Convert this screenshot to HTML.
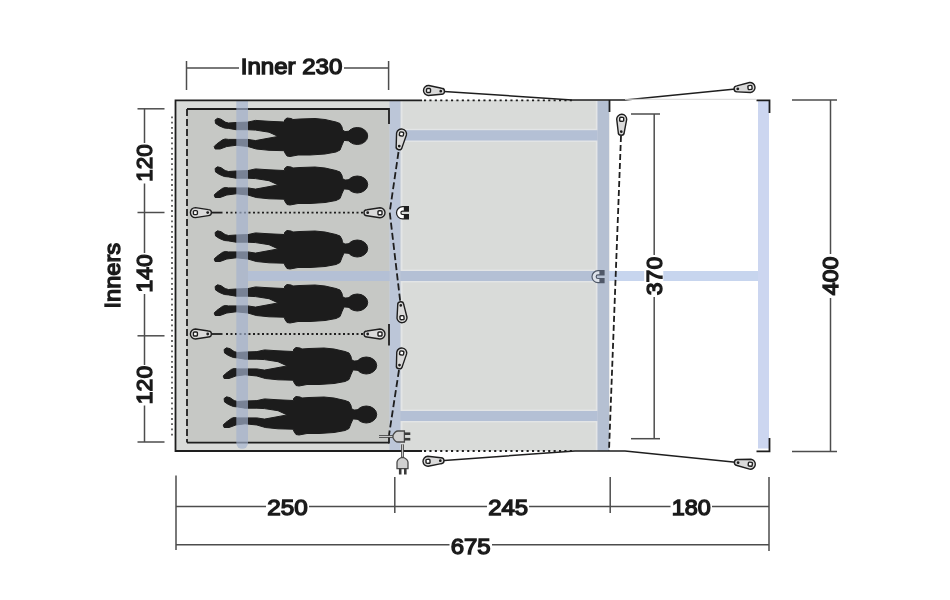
<!DOCTYPE html>
<html><head><meta charset="utf-8"><style>
html,body{margin:0;padding:0;background:#fff;width:950px;height:600px;overflow:hidden}
svg{display:block;will-change:transform}
text{font-family:"Liberation Sans",sans-serif;font-weight:normal;fill:#1a1a1a}
</style></head><body>
<svg width="950" height="600" viewBox="0 0 950 600">
<defs>
<g id="person">
<path d="M1.1,3 L3.6,1.3 L7,2.2 L11.2,5.1 L14.5,6 L22.1,5.5 L33.9,5.1 L41.5,3.4 L55,4.3 L70.5,5 L70.5,3 L73,1 L77,1.5 L79,2.5 L86,2 L101,1.5 L111,2.5 L122,5 L126,6.5 L128,10 L128.5,13 L131,14.6 L137,14 L137,24 L130,23.4 L128,28 L126,33 L122,35 L111,37 L96,38 L84,38 L76,39.5 L73,39 L71,36 L70.1,33.7 L55,33.3 L42.3,32 L33.9,29.5 L22.1,28.3 L12.8,29.5 L6.1,32 L1.1,32 L0.2,29.5 L2.7,27 L8.6,22.8 L11.2,22 L14.5,22.4 L33.9,22.4 L41.5,23.6 L64.2,19.4 L55,15.2 L41.5,13.1 L33.9,12.7 L22.1,12.7 L14.5,11.4 L10.3,11 L5.3,8.9 L1.5,6.4 Z"/>
<ellipse cx="143.3" cy="19" rx="10.4" ry="8.5"/>
</g>
<g id="peg">
<path d="M0,-5 L13,-3 A3 3 0 0 1 13,3 L0,5 A5 5 0 0 1 0,-5 Z" fill="#dadada" stroke="#1e1e1e" stroke-width="1.4"/>
<rect x="-2" y="-2" width="4" height="4" rx="1" fill="#fff" stroke="#1e1e1e" stroke-width="1.4"/>
<circle cx="12.3" cy="0" r="1.4" fill="#1e1e1e"/>
</g>
</defs>
<rect x="175.5" y="100" width="434" height="351" fill="#d9dbd9"/>
<rect x="187" y="109" width="202.5" height="333.5" fill="#c6c8c5"/>
<g fill="#e3e5e6"><rect x="401" y="128.8" width="196" height="13.1"/><rect x="401" y="269.6" width="196" height="12.8"/><rect x="401" y="409.6" width="196" height="12.8"/><rect x="400.5" y="101" width="2" height="349"/><rect x="595.8" y="101" width="2" height="350"/></g>
<g fill="#b4c0d5"><rect x="400" y="130.2" width="197.5" height="10.3"/><rect x="248" y="271" width="349.5" height="10"/><rect x="400" y="411" width="197.5" height="10"/></g>
<rect x="609" y="271" width="35.2" height="10" fill="#c7d5ee"/><rect x="663.3" y="271" width="94.7" height="10" fill="#c7d5ee"/>
<g fill="#1c1c1c" stroke="#1c1c1c" stroke-width="1" stroke-linejoin="round">
<use href="#person" transform="translate(214,117)"/>
<use href="#person" transform="translate(214,165.5)"/>
<use href="#person" transform="translate(214,229.5)"/>
<use href="#person" transform="translate(214,283.5)"/>
<use href="#person" transform="translate(223,346.5)"/>
<use href="#person" transform="translate(223,395.5)"/>
</g>
<g stroke="#1e1e1e" stroke-width="1.8">
<line x1="211" y1="212.6" x2="222.5" y2="212.6"/>
<line x1="226" y1="212.6" x2="363" y2="212.6" stroke-dasharray="2 2.5"/>
<line x1="211" y1="334" x2="222.5" y2="334"/>
<line x1="226" y1="334" x2="363" y2="334" stroke-dasharray="2 2.5"/>
</g>
<use href="#peg" transform="translate(195.4,212.6)"/>
<use href="#peg" transform="translate(380,212.7) rotate(180)"/>
<use href="#peg" transform="translate(195.4,334)"/>
<use href="#peg" transform="translate(380,334) rotate(180)"/>
<g stroke="#1e1e1e" stroke-width="1.8" fill="none">
<path d="M187,109 H389"/>
<path d="M187,442.6 H389"/>
<line x1="187" y1="109" x2="187" y2="442.6" stroke-dasharray="7 3"/>
</g>
<g fill="#a3b3cf" fill-opacity="0.68">
<path d="M236.3,101 H248 V443 A5.85 5.85 0 0 1 236.3,443 Z"/>
<rect x="597.5" y="101" width="11.5" height="350"/>
</g>
<rect x="389.5" y="101" width="11" height="349" fill="#bcc6d8"/>
<rect x="758" y="101" width="11" height="347.5" fill="#ccd6f0"/>
<path d="M604.6,272.8 H598 A3.9 3.9 0 0 0 598,280.6 H604.6" fill="none" stroke="#4f5868" stroke-width="5.4"/>
<path d="M599.4,272.8 H598 A3.9 3.9 0 0 0 598,280.6 H599.4" fill="none" stroke="#dde2ea" stroke-width="3"/>
<g stroke="#1e1e1e" stroke-width="1.8" fill="none">
<path d="M388,109 H389 V124"/>
<path d="M388,442.6 H389 V435"/>
<line x1="389" y1="324" x2="389" y2="345.5"/>
</g>
<g stroke="#1e1e1e" stroke-width="1.8" fill="none">
<path d="M422,100.3 H175.5 V451 H422"/>
<line x1="424" y1="100.3" x2="572" y2="100.3" stroke-dasharray="2.1 3.3"/>
<line x1="424" y1="451" x2="574" y2="451" stroke-dasharray="2.1 3.3"/>
<path d="M440,91.2 L572,100 H625 L738,88.8" stroke-width="1.5"/>
<path d="M440.7,460.7 L575,451 H625 L738,462.6" stroke-width="1.5"/>
<line x1="609.5" y1="100" x2="609.5" y2="112"/>
<path d="M756.5,100.3 H769.5 V113"/>
<path d="M756.5,451.3 H769.5 V438"/>
</g>
<line x1="625" y1="99.3" x2="756" y2="99.3" stroke="#d8d8d8" stroke-width="1"/>
<line x1="172" y1="116.5" x2="172" y2="437" stroke="#5a5a5a" stroke-width="1.8" stroke-dasharray="1.8 3.4"/>
<g stroke="#1e1e1e" stroke-width="1.8" fill="none">
<path d="M398.5,152 L389.7,212 L400.3,302" stroke-dasharray="7 3.2"/>
<path d="M399,370 L389,435" stroke-dasharray="7 3.2"/>
<path d="M621,136 L609,451" stroke-dasharray="6 3"/>
</g>
<path d="M409,208.9 H402.6 A3.9 3.9 0 0 0 402.6,216.7 H409" fill="none" stroke="#1e1e1e" stroke-width="5.6"/>
<path d="M403.8,208.9 H402.6 A3.9 3.9 0 0 0 402.6,216.7 H403.8" fill="none" stroke="#fff" stroke-width="3.2"/>
<use href="#peg" transform="translate(428.5,90.5) rotate(3.3)"/>
<use href="#peg" transform="translate(750,87.5) rotate(174)"/>
<use href="#peg" transform="translate(428,461.3) rotate(-2.7)"/>
<use href="#peg" transform="translate(750.3,464.2) rotate(187.5)"/>
<use href="#peg" transform="translate(401.5,134) rotate(100.5)"/>
<use href="#peg" transform="translate(402,317.7) rotate(-95.7)"/>
<use href="#peg" transform="translate(401.7,353) rotate(100.3)"/>
<use href="#peg" transform="translate(621.7,119.3) rotate(92)"/>
<g stroke="#4a4a4a" stroke-width="1.3" fill="#d0d0d0">
<line x1="379" y1="436.5" x2="394" y2="436.5" stroke-width="2.8"/>
<line x1="379" y1="436.5" x2="394" y2="436.5" stroke="#c8c8c8" stroke-width="1"/>
<path d="M393,435.3 Q395,431 398,431 H404.4 V442 H398 Q395,442 393,437.7 Z"/>
<line x1="404.4" y1="433.7" x2="410.3" y2="433.7" stroke-width="2.6" stroke="#3a3a3a"/>
<line x1="404.4" y1="439.2" x2="410.3" y2="439.2" stroke-width="2.6" stroke="#3a3a3a"/>
<line x1="402.5" y1="444.3" x2="402.5" y2="458" stroke-width="2.8"/>
<line x1="402.5" y1="444.3" x2="402.5" y2="458" stroke="#c8c8c8" stroke-width="1"/>
<path d="M401.3,457.5 Q397,459.5 397,462.5 V468.6 H408 V462.5 Q408,459.5 403.7,457.5 Z"/>
<line x1="400.2" y1="468.6" x2="400.2" y2="474.5" stroke-width="2.6" stroke="#3a3a3a"/>
<line x1="405.3" y1="468.6" x2="405.3" y2="474.5" stroke-width="2.6" stroke="#3a3a3a"/>
</g>
<g stroke="#4d4d4d" stroke-width="1.5" fill="none">
<line x1="186.5" y1="61" x2="186.5" y2="90"/>
<line x1="388.6" y1="61" x2="388.6" y2="90"/>
<line x1="186.5" y1="68" x2="239" y2="68"/>
<line x1="344" y1="68" x2="388.6" y2="68"/>
<line x1="144.5" y1="108.8" x2="144.5" y2="143"/>
<line x1="144.5" y1="183.5" x2="144.5" y2="253"/>
<line x1="144.5" y1="294" x2="144.5" y2="365"/>
<line x1="144.5" y1="405.5" x2="144.5" y2="442"/>
<line x1="137.5" y1="108.8" x2="164.5" y2="108.8"/>
<line x1="137.5" y1="212.5" x2="164.5" y2="212.5"/>
<line x1="137.5" y1="335.8" x2="164.5" y2="335.8"/>
<line x1="137.5" y1="442" x2="164.5" y2="442"/>
<line x1="654.2" y1="114" x2="654.2" y2="255"/>
<line x1="654.2" y1="297" x2="654.2" y2="438.7"/>
<line x1="631" y1="114" x2="660" y2="114"/>
<line x1="631" y1="438.7" x2="660" y2="438.7"/>
<line x1="830.5" y1="100" x2="830.5" y2="254"/>
<line x1="830.5" y1="298" x2="830.5" y2="451.4"/>
<line x1="792" y1="100" x2="837" y2="100"/>
<line x1="792" y1="451.4" x2="837" y2="451.4"/>
<line x1="176" y1="475.5" x2="176" y2="550"/>
<line x1="769" y1="477" x2="769" y2="551"/>
<line x1="394.8" y1="477" x2="394.8" y2="513"/>
<line x1="610.2" y1="477" x2="610.2" y2="513"/>
<line x1="176" y1="506.6" x2="266" y2="506.6"/>
<line x1="309" y1="506.6" x2="487" y2="506.6"/>
<line x1="529" y1="506.6" x2="670.5" y2="506.6"/>
<line x1="712" y1="506.6" x2="769" y2="506.6"/>
<line x1="176" y1="544.8" x2="449.5" y2="544.8"/>
<line x1="492" y1="544.8" x2="769" y2="544.8"/>
</g>
<g font-size="22.6" stroke="#1a1a1a" stroke-width="1.4">
<text x="291.6" y="74.2" text-anchor="middle" textLength="101.5" lengthAdjust="spacingAndGlyphs">Inner 230</text>
<text x="287.5" y="515" text-anchor="middle" textLength="40.5" lengthAdjust="spacingAndGlyphs">250</text>
<text x="508.2" y="515" text-anchor="middle" textLength="40" lengthAdjust="spacingAndGlyphs">245</text>
<text x="691.3" y="514.8" text-anchor="middle" textLength="39" lengthAdjust="spacingAndGlyphs">180</text>
<text x="470.7" y="553.6" text-anchor="middle" textLength="40" lengthAdjust="spacingAndGlyphs">675</text>
<text transform="translate(120,275.7) rotate(-90)" text-anchor="middle" textLength="65.5" lengthAdjust="spacingAndGlyphs">Inners</text>
<text transform="translate(151.6,163.1) rotate(-90)" text-anchor="middle" textLength="37.5" lengthAdjust="spacingAndGlyphs">120</text>
<text transform="translate(151.6,273.3) rotate(-90)" text-anchor="middle" textLength="38.3" lengthAdjust="spacingAndGlyphs">140</text>
<text transform="translate(151.6,385) rotate(-90)" text-anchor="middle" textLength="38.3" lengthAdjust="spacingAndGlyphs">120</text>
<text transform="translate(661.8,276) rotate(-90)" text-anchor="middle" textLength="38.3" lengthAdjust="spacingAndGlyphs">370</text>
<text transform="translate(837.7,276) rotate(-90)" text-anchor="middle" textLength="38.5" lengthAdjust="spacingAndGlyphs">400</text>
</g>
</svg>
</body></html>
